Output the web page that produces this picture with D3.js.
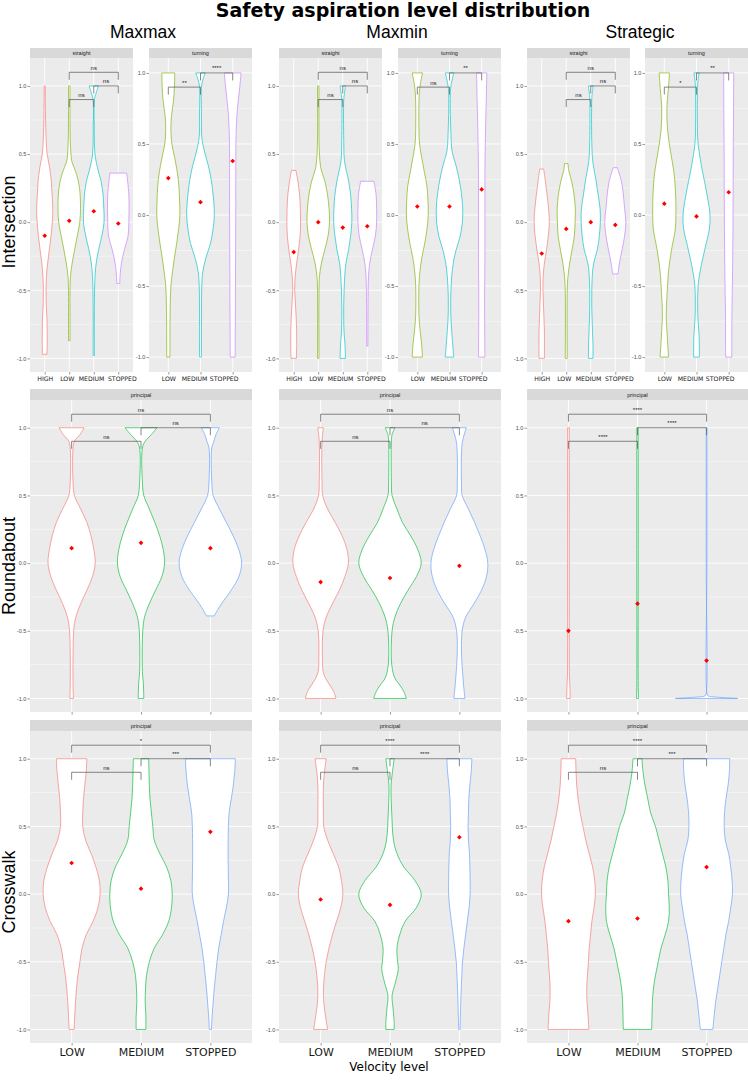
<!DOCTYPE html>
<html>
<head>
<meta charset="utf-8">
<script src="https://cdn.jsdelivr.net/npm/d3@7"></script>
<style>
  body { margin: 0; background: #fff; }
  svg text { font-family: "Liberation Sans", Arial, sans-serif; }
</style>
</head>
<body>
<svg id="chart" width="748" height="1089"></svg>
<script>
// ---- data ----
const mainTitle = "Safety aspiration level distribution";
const strategies = ["Maxmax", "Maxmin", "Strategic"];
const scenarios = ["Intersection", "Roundabout", "Crosswalk"];
const xTitle = "Velocity level";
const straightLevels = ["HIGH", "LOW", "MEDIUM", "STOPPED"];
const turningLevels = ["LOW", "MEDIUM", "STOPPED"];
const principalLevels = ["LOW", "MEDIUM", "STOPPED"];
const yTicks = [-1, -0.5, 0, 0.5, 1];
const yMinor = [-0.75, -0.25, 0.25, 0.75];

// violin profiles: [value, half width as fraction of category step]
const maxmaxStraight = [
  [[1,0.02],[0.8,0.03],[0.6,0.06],[0.5,0.1],[0.4,0.2],[0.3,0.27],[0.2,0.3],[0.1,0.33],[0,0.31],[-0.1,0.26],[-0.2,0.19],[-0.3,0.12],[-0.4,0.07],[-0.5,0.055],[-0.6,0.06],[-0.7,0.09],[-0.8,0.1],[-0.9,0.1],[-0.97,0.09]],
  [[1,0.03],[0.8,0.03],[0.6,0.04],[0.5,0.07],[0.45,0.1],[0.35,0.3],[0.25,0.42],[0.1,0.46],[0,0.43],[-0.1,0.33],[-0.2,0.22],[-0.3,0.12],[-0.4,0.05],[-0.5,0.03],[-0.7,0.03],[-0.87,0.03]],
  [[1,0.19],[0.95,0.1],[0.9,0.03],[0.7,0.02],[0.5,0.05],[0.4,0.15],[0.3,0.3],[0.2,0.38],[0.1,0.41],[0,0.42],[-0.1,0.33],[-0.2,0.2],[-0.3,0.1],[-0.4,0.05],[-0.6,0.025],[-0.98,0.025]],
  [[0.36,0.34],[0.3,0.38],[0.2,0.43],[0.1,0.44],[0,0.43],[-0.1,0.4],[-0.2,0.25],[-0.3,0.13],[-0.4,0.07],[-0.45,0.06]]
];
const maxmaxStraightMeans = [-0.1, 0.01, 0.08, -0.01];

const maxmaxTurning = [
  [[1,0.2],[0.9,0.19],[0.8,0.16],[0.7,0.1],[0.6,0.08],[0.5,0.11],[0.4,0.2],[0.3,0.28],[0.2,0.33],[0.1,0.35],[0,0.36],[-0.1,0.32],[-0.2,0.26],[-0.3,0.19],[-0.4,0.13],[-0.5,0.08],[-0.7,0.055],[-0.85,0.05],[-1,0.05]],
  [[1,0.15],[0.95,0.07],[0.9,0.03],[0.7,0.03],[0.55,0.04],[0.45,0.12],[0.35,0.24],[0.25,0.33],[0.1,0.41],[0,0.43],[-0.1,0.39],[-0.2,0.31],[-0.3,0.17],[-0.4,0.07],[-0.5,0.04],[-0.7,0.03],[-1,0.03]],
  [[1,0.26],[0.9,0.22],[0.8,0.17],[0.7,0.13],[0.6,0.11],[0.5,0.1],[0.2,0.095],[0,0.095],[-0.3,0.09],[-0.6,0.085],[-0.8,0.08],[-1,0.075]]
];
const maxmaxTurningMeans = [0.26, 0.09, 0.38];

const maxminStraight = [
  [[0.38,0.09],[0.3,0.17],[0.2,0.24],[0.1,0.27],[0,0.28],[-0.1,0.26],[-0.2,0.2],[-0.3,0.12],[-0.4,0.06],[-0.5,0.04],[-0.6,0.07],[-0.7,0.1],[-0.8,0.12],[-0.9,0.12],[-1,0.11]],
  [[1,0.03],[0.6,0.03],[0.5,0.05],[0.4,0.1],[0.3,0.27],[0.2,0.38],[0.1,0.44],[0,0.46],[-0.1,0.4],[-0.2,0.27],[-0.3,0.13],[-0.4,0.05],[-0.5,0.03],[-1,0.03]],
  [[1,0.11],[0.95,0.07],[0.9,0.04],[0.6,0.04],[0.45,0.07],[0.3,0.24],[0.2,0.32],[0.1,0.36],[0,0.37],[-0.1,0.32],[-0.2,0.24],[-0.3,0.13],[-0.4,0.08],[-0.6,0.04],[-0.8,0.05],[-0.9,0.09],[-1,0.11]],
  [[0.3,0.27],[0.2,0.36],[0.1,0.38],[0,0.38],[-0.1,0.33],[-0.2,0.21],[-0.3,0.1],[-0.4,0.05],[-0.6,0.03],[-0.91,0.025]]
];
const maxminStraightMeans = [-0.22, 0.0, -0.04, -0.03];

const maxminTurning = [
  [[1,0.16],[0.93,0.1],[0.85,0.06],[0.6,0.05],[0.5,0.07],[0.4,0.14],[0.3,0.22],[0.2,0.3],[0.1,0.33],[0,0.34],[-0.1,0.3],[-0.2,0.23],[-0.3,0.14],[-0.4,0.08],[-0.5,0.05],[-0.7,0.05],[-0.8,0.08],[-0.9,0.13],[-1,0.16]],
  [[1,0.13],[0.95,0.08],[0.88,0.03],[0.6,0.04],[0.45,0.08],[0.35,0.2],[0.25,0.3],[0.15,0.37],[0.05,0.41],[-0.05,0.4],[-0.15,0.33],[-0.25,0.2],[-0.35,0.11],[-0.5,0.05],[-0.7,0.04],[-0.85,0.08],[-1,0.13]],
  [[1,0.16],[0.8,0.14],[0.6,0.12],[0.3,0.1],[0,0.1],[-0.3,0.1],[-0.6,0.09],[-1,0.1]]
];
const maxminTurningMeans = [0.06, 0.06, 0.18];

const strategicStraight = [
  [[0.39,0.08],[0.3,0.15],[0.2,0.22],[0.1,0.28],[0,0.31],[-0.1,0.27],[-0.2,0.2],[-0.3,0.11],[-0.4,0.06],[-0.5,0.05],[-0.6,0.07],[-0.7,0.09],[-0.8,0.11],[-0.9,0.11],[-1,0.11]],
  [[0.43,0.07],[0.38,0.1],[0.3,0.22],[0.2,0.32],[0.1,0.37],[0,0.36],[-0.1,0.33],[-0.2,0.24],[-0.3,0.14],[-0.4,0.07],[-0.5,0.04],[-1,0.04]],
  [[1,0.1],[0.95,0.06],[0.9,0.04],[0.6,0.04],[0.45,0.08],[0.3,0.22],[0.2,0.3],[0.1,0.38],[0,0.39],[-0.1,0.35],[-0.2,0.27],[-0.3,0.12],[-0.4,0.06],[-0.6,0.04],[-0.8,0.07],[-0.9,0.09],[-1,0.09]],
  [[0.4,0.08],[0.3,0.25],[0.2,0.33],[0.1,0.38],[0,0.43],[-0.1,0.38],[-0.2,0.28],[-0.3,0.17],[-0.38,0.11]]
];
const strategicStraightMeans = [-0.23, -0.05, 0.0, -0.02];

const strategicTurning = [
  [[1,0.16],[0.9,0.13],[0.75,0.08],[0.6,0.1],[0.45,0.19],[0.3,0.3],[0.15,0.35],[0,0.36],[-0.1,0.34],[-0.25,0.22],[-0.4,0.13],[-0.5,0.1],[-0.7,0.06],[-0.85,0.09],[-1,0.13]],
  [[1,0.08],[0.93,0.04],[0.6,0.03],[0.5,0.05],[0.35,0.15],[0.2,0.28],[0.1,0.36],[0,0.42],[-0.1,0.4],[-0.2,0.3],[-0.3,0.2],[-0.4,0.11],[-0.5,0.05],[-0.7,0.04],[-0.85,0.08],[-1,0.09]],
  [[1,0.155],[0.7,0.15],[0.4,0.14],[0,0.135],[-0.4,0.12],[-0.7,0.1],[-1,0.095]]
];
const strategicTurningMeans = [0.08, -0.01, 0.16];

const maxmaxRoundabout = [
  [[1,0.18],[0.95,0.12],[0.9,0.04],[0.85,0.02],[0.6,0.02],[0.5,0.04],[0.4,0.13],[0.3,0.22],[0.2,0.28],[0.1,0.32],[0,0.34],[-0.1,0.3],[-0.2,0.22],[-0.3,0.13],[-0.4,0.06],[-0.5,0.03],[-0.7,0.02],[-0.9,0.02],[-1,0.025]],
  [[1,0.23],[0.95,0.15],[0.9,0.06],[0.85,0.02],[0.6,0.02],[0.5,0.04],[0.4,0.12],[0.3,0.2],[0.2,0.27],[0.1,0.32],[0,0.34],[-0.1,0.3],[-0.2,0.21],[-0.3,0.12],[-0.4,0.05],[-0.5,0.025],[-0.8,0.02],[-0.9,0.035],[-1,0.04]],
  [[1,0.13],[0.95,0.08],[0.9,0.05],[0.85,0.02],[0.6,0.02],[0.5,0.04],[0.4,0.13],[0.3,0.23],[0.2,0.33],[0.1,0.41],[0,0.45],[-0.1,0.41],[-0.2,0.3],[-0.3,0.16],[-0.35,0.1],[-0.39,0.055]]
];
const maxmaxRoundaboutMeans = [0.11, 0.15, 0.11];

const maxminRoundabout = [
  [[1,0.04],[0.9,0.02],[0.6,0.02],[0.5,0.03],[0.4,0.1],[0.3,0.21],[0.2,0.31],[0.1,0.38],[0,0.4],[-0.1,0.35],[-0.2,0.27],[-0.3,0.17],[-0.4,0.08],[-0.5,0.035],[-0.7,0.025],[-0.8,0.035],[-0.85,0.07],[-0.9,0.13],[-0.95,0.19],[-1,0.22]],
  [[1,0.07],[0.95,0.03],[0.9,0.02],[0.6,0.02],[0.5,0.03],[0.4,0.1],[0.3,0.18],[0.2,0.3],[0.1,0.4],[0,0.45],[-0.1,0.38],[-0.2,0.26],[-0.3,0.15],[-0.4,0.07],[-0.5,0.03],[-0.75,0.025],[-0.85,0.07],[-0.9,0.14],[-0.95,0.2],[-1,0.235]],
  [[1,0.1],[0.9,0.045],[0.8,0.03],[0.6,0.03],[0.5,0.04],[0.4,0.13],[0.3,0.22],[0.2,0.3],[0.1,0.37],[0,0.41],[-0.1,0.39],[-0.2,0.32],[-0.3,0.21],[-0.4,0.09],[-0.5,0.04],[-0.65,0.03],[-0.8,0.045],[-0.9,0.06],[-1,0.08]]
];
const maxminRoundaboutMeans = [-0.14, -0.11, -0.02];

const strategicRoundabout = [
  [[1,0.012],[0,0.012],[-0.85,0.015],[-0.9,0.02],[-1,0.025]],
  [[1,0.01],[0,0.01],[-0.9,0.01],[-1,0.015]],
  [[1,0.005],[0,0.005],[-0.96,0.005],[-0.98,0.02],[-0.99,0.15],[-1,0.45]]
];
const strategicRoundaboutMeans = [-0.5, -0.3, -0.72];

const maxmaxCrosswalk = [
  [[1,0.22],[0.9,0.21],[0.8,0.19],[0.7,0.17],[0.6,0.16],[0.5,0.16],[0.4,0.2],[0.3,0.28],[0.2,0.35],[0.1,0.4],[0,0.41],[-0.1,0.38],[-0.2,0.31],[-0.3,0.21],[-0.4,0.15],[-0.5,0.12],[-0.6,0.09],[-0.7,0.07],[-0.8,0.055],[-0.9,0.045],[-1,0.035]],
  [[1,0.11],[0.9,0.115],[0.8,0.12],[0.7,0.13],[0.6,0.15],[0.5,0.17],[0.4,0.19],[0.3,0.27],[0.2,0.37],[0.1,0.43],[0,0.45],[-0.1,0.44],[-0.2,0.4],[-0.3,0.31],[-0.4,0.19],[-0.5,0.12],[-0.6,0.08],[-0.7,0.065],[-0.8,0.06],[-0.9,0.07],[-1,0.07]],
  [[1,0.36],[0.9,0.35],[0.8,0.33],[0.7,0.3],[0.6,0.27],[0.5,0.26],[0.3,0.255],[0.1,0.26],[0,0.26],[-0.1,0.23],[-0.2,0.19],[-0.3,0.155],[-0.4,0.12],[-0.5,0.095],[-0.6,0.075],[-0.7,0.055],[-0.8,0.04],[-0.9,0.025],[-1,0.015]]
];
const maxmaxCrosswalkMeans = [0.23, 0.04, 0.46];

const maxminCrosswalk = [
  [[1,0.08],[0.9,0.055],[0.8,0.04],[0.6,0.04],[0.5,0.045],[0.4,0.1],[0.3,0.18],[0.2,0.26],[0.1,0.3],[0,0.32],[-0.1,0.29],[-0.2,0.23],[-0.3,0.17],[-0.4,0.12],[-0.5,0.08],[-0.6,0.055],[-0.7,0.04],[-0.8,0.045],[-0.9,0.07],[-1,0.1]],
  [[1,0.06],[0.9,0.035],[0.8,0.015],[0.6,0.025],[0.4,0.05],[0.3,0.1],[0.2,0.2],[0.1,0.36],[0,0.45],[-0.1,0.38],[-0.2,0.22],[-0.3,0.14],[-0.4,0.1],[-0.5,0.11],[-0.55,0.12],[-0.65,0.08],[-0.75,0.03],[-0.85,0.045],[-0.95,0.06],[-1,0.06]],
  [[1,0.18],[0.9,0.17],[0.8,0.15],[0.7,0.135],[0.6,0.13],[0.5,0.125],[0.4,0.13],[0.3,0.145],[0.1,0.155],[0,0.155],[-0.1,0.14],[-0.2,0.115],[-0.3,0.09],[-0.4,0.065],[-0.5,0.045],[-0.6,0.035],[-0.8,0.02],[-1,0.01]]
];
const maxminCrosswalkMeans = [-0.04, -0.08, 0.42];

const strategicCrosswalk = [
  [[1,0.105],[0.9,0.11],[0.8,0.12],[0.7,0.14],[0.6,0.17],[0.5,0.21],[0.4,0.25],[0.3,0.3],[0.2,0.35],[0.1,0.38],[0,0.39],[-0.1,0.37],[-0.2,0.34],[-0.3,0.32],[-0.4,0.3],[-0.5,0.29],[-0.6,0.275],[-0.7,0.265],[-0.8,0.27],[-0.9,0.285],[-1,0.295]],
  [[1,0.065],[0.9,0.08],[0.8,0.11],[0.7,0.15],[0.6,0.19],[0.5,0.26],[0.4,0.31],[0.3,0.36],[0.2,0.41],[0.1,0.44],[0,0.45],[-0.1,0.46],[-0.2,0.45],[-0.3,0.4],[-0.4,0.34],[-0.5,0.3],[-0.6,0.26],[-0.7,0.23],[-0.8,0.215],[-0.9,0.21],[-1,0.205]],
  [[1,0.335],[0.9,0.33],[0.8,0.31],[0.7,0.28],[0.6,0.26],[0.5,0.255],[0.4,0.27],[0.3,0.32],[0.2,0.35],[0.1,0.37],[0,0.375],[-0.1,0.35],[-0.2,0.32],[-0.3,0.28],[-0.4,0.25],[-0.5,0.22],[-0.6,0.19],[-0.7,0.16],[-0.8,0.13],[-0.9,0.11],[-1,0.09]]
];
const strategicCrosswalkMeans = [-0.2, -0.18, 0.2];

// pairwise comparisons: [group1, group2, bracket level, label]
const straightTests = [["LOW","STOPPED",1.1,"ns"],["MEDIUM","STOPPED",1.0,"ns"],["LOW","MEDIUM",0.9,"ns"]];
const maxmaxTurningTests = [["MEDIUM","STOPPED",1.0,"****"],["LOW","MEDIUM",0.9,"**"]];
const maxminTurningTests = [["MEDIUM","STOPPED",1.0,"**"],["LOW","MEDIUM",0.9,"ns"]];
const strategicTurningTests = [["MEDIUM","STOPPED",1.0,"**"],["LOW","MEDIUM",0.9,"*"]];
const maxmaxRoundaboutTests = [["LOW","STOPPED",1.1,"ns"],["MEDIUM","STOPPED",1.0,"ns"],["LOW","MEDIUM",0.9,"ns"]];
const maxminRoundaboutTests = [["LOW","STOPPED",1.1,"ns"],["MEDIUM","STOPPED",1.0,"ns"],["LOW","MEDIUM",0.9,"ns"]];
const strategicRoundaboutTests = [["LOW","STOPPED",1.1,"****"],["MEDIUM","STOPPED",1.0,"****"],["LOW","MEDIUM",0.9,"****"]];
const maxmaxCrosswalkTests = [["LOW","STOPPED",1.1,"*"],["MEDIUM","STOPPED",1.0,"***"],["LOW","MEDIUM",0.9,"ns"]];
const maxminCrosswalkTests = [["LOW","STOPPED",1.1,"****"],["MEDIUM","STOPPED",1.0,"****"],["LOW","MEDIUM",0.9,"ns"]];
const strategicCrosswalkTests = [["LOW","STOPPED",1.1,"****"],["MEDIUM","STOPPED",1.0,"***"],["LOW","MEDIUM",0.9,"ns"]];

// ---- colours & layout ----
const intersectionColor = d3.scaleOrdinal().domain(straightLevels).range(["#F8766D", "#7CAE00", "#00BFC4", "#C77CFF"]);
const principalColor = d3.scaleOrdinal().domain(principalLevels).range(["#F8766D", "#00BA38", "#619CFF"]);

const rowBox = [
  { strip: 48, top: 58, bottom: 372 },
  { strip: 389, top: 400, bottom: 712 },
  { strip: 720, top: 731, bottom: 1043 }
];
const colSpan = [[30, 252], [279, 501], [527, 748]];
const subW = 103;
const tallDomain = [-1.1, 1.205];
const shortDomain = [-1.105, 1.105];
// the small top-row labels sit a little off their ticks so they don't collide
const straightNudge = [0, -2.5, -2.7, 3.5];
const turningNudge = [0, -6.5, -9];

const panels = [
  { row: 0, x0: colSpan[0][0], x1: colSpan[0][0] + subW, strip: "straight", levels: straightLevels, nudge: straightNudge, color: intersectionColor, violins: maxmaxStraight, means: maxmaxStraightMeans, tests: straightTests, domain: tallDomain },
  { row: 0, x0: colSpan[0][1] - subW, x1: colSpan[0][1], strip: "turning", levels: turningLevels, nudge: turningNudge, color: intersectionColor, violins: maxmaxTurning, means: maxmaxTurningMeans, tests: maxmaxTurningTests, domain: shortDomain },
  { row: 0, x0: colSpan[1][0], x1: colSpan[1][0] + subW, strip: "straight", levels: straightLevels, nudge: straightNudge, color: intersectionColor, violins: maxminStraight, means: maxminStraightMeans, tests: straightTests, domain: tallDomain },
  { row: 0, x0: colSpan[1][1] - subW, x1: colSpan[1][1], strip: "turning", levels: turningLevels, nudge: turningNudge, color: intersectionColor, violins: maxminTurning, means: maxminTurningMeans, tests: maxminTurningTests, domain: shortDomain },
  { row: 0, x0: colSpan[2][0], x1: colSpan[2][0] + subW, strip: "straight", levels: straightLevels, nudge: straightNudge, color: intersectionColor, violins: strategicStraight, means: strategicStraightMeans, tests: straightTests, domain: tallDomain },
  { row: 0, x0: colSpan[2][1] - subW, x1: colSpan[2][1], strip: "turning", levels: turningLevels, nudge: turningNudge, color: intersectionColor, violins: strategicTurning, means: strategicTurningMeans, tests: strategicTurningTests, domain: shortDomain },
  { row: 1, x0: colSpan[0][0], x1: colSpan[0][1], strip: "principal", levels: principalLevels, color: principalColor, violins: maxmaxRoundabout, means: maxmaxRoundaboutMeans, tests: maxmaxRoundaboutTests, domain: tallDomain },
  { row: 1, x0: colSpan[1][0], x1: colSpan[1][1], strip: "principal", levels: principalLevels, color: principalColor, violins: maxminRoundabout, means: maxminRoundaboutMeans, tests: maxminRoundaboutTests, domain: tallDomain },
  { row: 1, x0: colSpan[2][0], x1: colSpan[2][1], strip: "principal", levels: principalLevels, color: principalColor, violins: strategicRoundabout, means: strategicRoundaboutMeans, tests: strategicRoundaboutTests, domain: tallDomain },
  { row: 2, x0: colSpan[0][0], x1: colSpan[0][1], strip: "principal", levels: principalLevels, color: principalColor, violins: maxmaxCrosswalk, means: maxmaxCrosswalkMeans, tests: maxmaxCrosswalkTests, domain: tallDomain },
  { row: 2, x0: colSpan[1][0], x1: colSpan[1][1], strip: "principal", levels: principalLevels, color: principalColor, violins: maxminCrosswalk, means: maxminCrosswalkMeans, tests: maxminCrosswalkTests, domain: tallDomain },
  { row: 2, x0: colSpan[2][0], x1: colSpan[2][1], strip: "principal", levels: principalLevels, color: principalColor, violins: strategicCrosswalk, means: strategicCrosswalkMeans, tests: strategicCrosswalkTests, domain: tallDomain }
];

const svg = d3.select("#chart");

// titles
svg.append("text")
  .attr("x", 403).attr("y", 17)
  .attr("text-anchor", "middle")
  .style("font-family", "'DejaVu Sans', sans-serif")
  .style("font-weight", "bold")
  .style("font-size", "19px")
  .text(mainTitle);

const stratX = [143, 397, 640];
strategies.forEach((s, i) => {
  svg.append("text")
    .attr("x", stratX[i]).attr("y", 38)
    .attr("text-anchor", "middle")
    .style("font-size", "17.5px")
    .text(s);
});

const scenarioY = [222, 566, 892];
scenarios.forEach((s, i) => {
  svg.append("text")
    .attr("transform", `translate(15,${scenarioY[i]}) rotate(-90)`)
    .attr("text-anchor", "middle")
    .style("font-size", "18px")
    .text(s);
});

svg.append("text")
  .attr("x", 389).attr("y", 1071)
  .attr("text-anchor", "middle")
  .style("font-family", "'DejaVu Sans', sans-serif")
  .style("font-size", "12px")
  .text(xTitle);

function drawPanel(p) {
  const box = rowBox[p.row];
  const g = svg.append("g");
  const x = d3.scalePoint().domain(p.levels).range([p.x0, p.x1]).padding(0.6);
  const step = x.step();
  const y = d3.scaleLinear().domain(p.domain).range([box.bottom, box.top]);

  // background + strip
  g.append("rect").attr("x", p.x0).attr("y", box.top)
    .attr("width", p.x1 - p.x0).attr("height", box.bottom - box.top).attr("fill", "#EBEBEB");
  g.append("rect").attr("x", p.x0).attr("y", box.strip)
    .attr("width", p.x1 - p.x0).attr("height", box.top - box.strip).attr("fill", "#D9D9D9");
  g.append("text").attr("x", (p.x0 + p.x1) / 2).attr("y", (box.strip + box.top) / 2 + 2)
    .attr("text-anchor", "middle").style("font-size", "5.5px").attr("fill", "#1A1A1A")
    .text(p.strip);

  // grid
  g.selectAll(".minor").data(yMinor).join("line")
    .attr("x1", p.x0).attr("x2", p.x1).attr("y1", d => y(d)).attr("y2", d => y(d))
    .attr("stroke", "#fff").attr("stroke-width", 0.45);
  g.selectAll(".major").data(yTicks).join("line")
    .attr("x1", p.x0).attr("x2", p.x1).attr("y1", d => y(d)).attr("y2", d => y(d))
    .attr("stroke", "#fff").attr("stroke-width", 0.9);
  g.selectAll(".vmajor").data(p.levels).join("line")
    .attr("x1", d => x(d)).attr("x2", d => x(d)).attr("y1", box.top).attr("y2", box.bottom)
    .attr("stroke", "#fff").attr("stroke-width", 0.9);

  // violins
  p.violins.forEach((prof, i) => {
    const lev = p.levels[p.levels.length - p.violins.length + i];
    const cx = x(lev);
    const area = d3.area()
      .y(d => y(d[0]))
      .x0(d => cx - d[1] * step)
      .x1(d => cx + d[1] * step)
      .curve(d3.curveCatmullRom.alpha(0.5));
    g.append("path").attr("d", area(prof))
      .attr("fill", "#fff").attr("stroke", p.color(lev)).attr("stroke-width", 0.65);
  });

  // mean markers
  const diamond = d3.symbol().type(d3.symbolSquare).size(11);
  p.means.forEach((m, i) => {
    const lev = p.levels[p.levels.length - p.means.length + i];
    g.append("path").attr("d", diamond())
      .attr("transform", `translate(${x(lev)},${y(m)}) rotate(45)`)
      .attr("fill", "#FF0000");
  });

  // significance brackets
  const tip = 7.5;
  p.tests.forEach(([a, b, lvl, lab]) => {
    const xa = x(a), xb = x(b), yl = y(lvl);
    g.append("path")
      .attr("d", `M${xa},${yl + tip}V${yl}H${xb}V${yl + tip}`)
      .attr("fill", "none").attr("stroke", "#555").attr("stroke-width", 0.7);
    g.append("text").attr("x", (xa + xb) / 2).attr("y", yl - 2.5)
      .attr("text-anchor", "middle").style("font-size", "6px").attr("fill", "#222")
      .text(lab);
  });

  // axes
  const yAxis = g.append("g").attr("transform", `translate(${p.x0},0)`)
    .call(d3.axisLeft(y).tickValues(yTicks).tickSize(2.5).tickPadding(1.2).tickFormat(d => d.toFixed(1)));
  yAxis.select(".domain").remove();
  yAxis.selectAll("line").attr("stroke", "#333").attr("stroke-width", 0.5);
  yAxis.selectAll("text").attr("fill", "#4D4D4D").style("font-size", "5.5px")
    .style("font-family", "'Liberation Sans', Arial, sans-serif");

  const xAxis = g.append("g").attr("transform", `translate(0,${box.bottom})`)
    .call(d3.axisBottom(x).tickSize(2.5).tickPadding(p.row === 2 ? 2.5 : 2)
      .tickFormat(d => p.row === 1 ? "" : d));
  xAxis.select(".domain").remove();
  xAxis.selectAll("line").attr("stroke", "#333").attr("stroke-width", 0.5);
  xAxis.selectAll("text").attr("fill", "#1A1A1A")
    .style("font-family", "'DejaVu Sans', sans-serif")
    .style("font-size", p.row === 2 ? "11px" : "6.2px");
  if (p.nudge) {
    xAxis.selectAll("text").attr("dx", (d, i) => p.nudge[i]);
  }
}

panels.forEach(drawPanel);
</script>
</body>
</html>
